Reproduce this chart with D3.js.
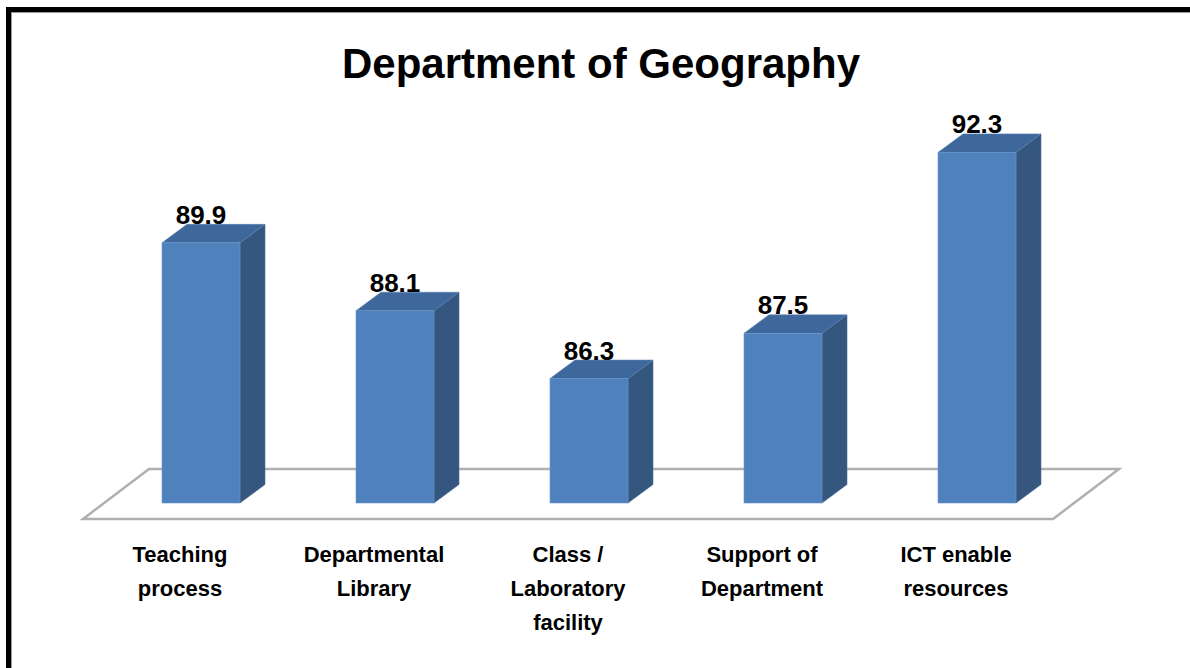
<!DOCTYPE html>
<html>
<head>
<meta charset="utf-8">
<script src="https://cdn.jsdelivr.net/npm/d3@7"></script>
<style>
  html, body { margin: 0; padding: 0; background: #fff; }
  svg { display: block; }
</style>
</head>
<body>
<svg id="chart" width="1190" height="668"></svg>
<script>
const title = "Department of Geography";
const categories = [
  ["Teaching", "process"],
  ["Departmental", "Library"],
  ["Class /", "Laboratory", "facility"],
  ["Support of", "Department"],
  ["ICT enable", "resources"]
];
const values = [89.9, 88.1, 86.3, 87.5, 92.3];
const valueDomain = [83, 93];

const svg = d3.select("#chart");
const W = 1190, H = 668;
const font = "'Liberation Sans', Arial, sans-serif";

// border (left and top visible)
svg.append("rect").attr("x", 8.5).attr("y", 9.5).attr("width", W + 20).attr("height", H + 20)
  .attr("fill", "none").attr("stroke", "#000").attr("stroke-width", 5);
svg.append("rect").attr("x", 11.5).attr("y", 12.5).attr("width", W + 20).attr("height", H + 20)
  .attr("fill", "none").attr("stroke", "#9a9a9a").attr("stroke-width", 1);

const keys = categories.map((c, i) => "c" + i);
const x = d3.scaleBand().domain(keys).range([104, 1074]).paddingInner(0.598).paddingOuter(0.299);
const y = d3.scaleLinear().domain(valueDomain).range([503, 126]);

const base = y(valueDomain[0]);
// depth projection
const bdx = 25, bdy = -18.5;          // bar depth
const fFront = { dx: -21, dy: 16 };   // floor front offset
const fBack = { dx: 45, dy: -34 };    // floor back offset

const [r0, r1] = x.range();
// floor
const floorPts = [
  [r0 + fFront.dx, base + fFront.dy],
  [r1 + fFront.dx, base + fFront.dy],
  [r1 + fBack.dx, base + fBack.dy],
  [r0 + fBack.dx, base + fBack.dy]
];
svg.append("polygon")
  .attr("points", floorPts.map(p => p.join(",")).join(" "))
  .attr("fill", "#fff").attr("stroke", "#b0b0b0").attr("stroke-width", 2.5)
  .attr("stroke-linejoin", "miter");

const g = svg.append("g");
values.forEach((v, i) => {
  const x0 = x(keys[i]), x1 = x0 + x.bandwidth();
  const yt = y(v);
  // side face
  g.append("polygon")
    .attr("points", [[x1, base], [x1 + bdx, base + bdy], [x1 + bdx, yt + bdy], [x1, yt]].map(p => p.join(",")).join(" "))
    .attr("fill", "#34567f").attr("stroke", "#4a6d97").attr("stroke-width", 0.6);
  // top face
  g.append("polygon")
    .attr("points", [[x0, yt], [x1, yt], [x1 + bdx, yt + bdy], [x0 + bdx, yt + bdy]].map(p => p.join(",")).join(" "))
    .attr("fill", "#3e679b").attr("stroke", "#5a82b3").attr("stroke-width", 0.6);
  // front face
  g.append("rect")
    .attr("x", x0).attr("y", yt).attr("width", x.bandwidth()).attr("height", base - yt)
    .attr("fill", "#4f81bd").attr("stroke", "#6b95c8").attr("stroke-width", 0.6);
  // value label
  g.append("text")
    .attr("x", (x0 + x1) / 2).attr("y", yt + bdy - 0.5)
    .attr("text-anchor", "middle")
    .attr("font-family", font).attr("font-weight", "bold").attr("font-size", 26)
    .attr("fill", "#000").text(v.toFixed(1));
  // category label
  const t = g.append("text")
    .attr("text-anchor", "middle")
    .attr("font-family", font).attr("font-weight", "bold").attr("font-size", 22)
    .attr("fill", "#000");
  categories[i].forEach((line, j) => {
    t.append("tspan").attr("x", (x0 + x1) / 2 + fFront.dx).attr("y", 562 + j * 34).text(line);
  });
});

svg.append("text")
  .attr("x", 601).attr("y", 78)
  .attr("text-anchor", "middle")
  .attr("font-family", font).attr("font-weight", "bold").attr("font-size", 42)
  .attr("fill", "#000").text(title);
</script>
</body>
</html>
